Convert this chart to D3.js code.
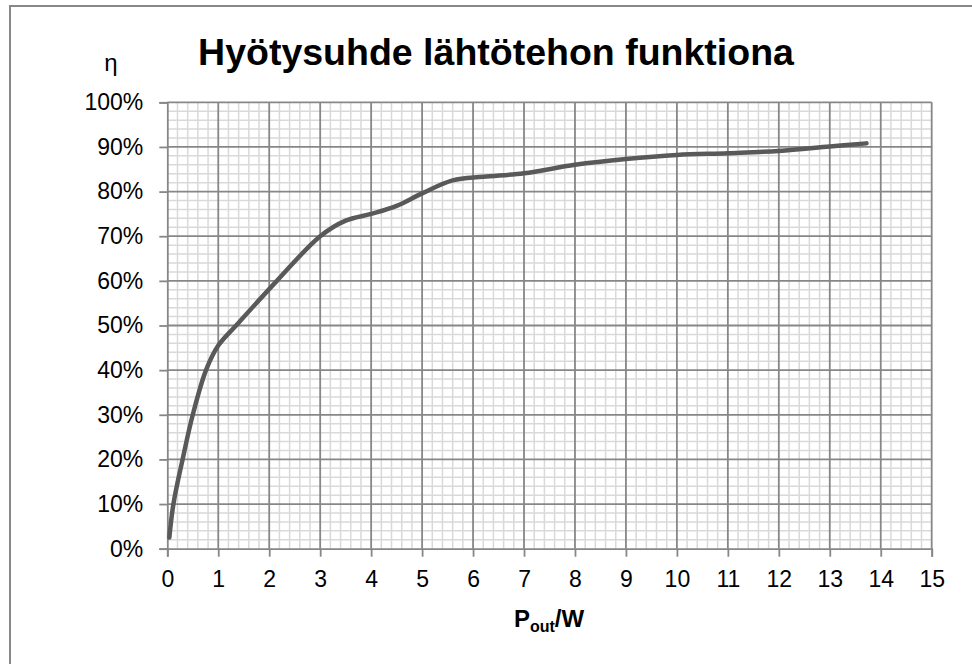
<!DOCTYPE html>
<html>
<head>
<meta charset="utf-8">
<script src="https://cdn.jsdelivr.net/npm/d3@7"></script>
<style>
    body { margin: 0; background: #fff; }
    text { font-family: "Liberation Sans", Arial, sans-serif; }
</style>
</head>
<body>
<div id="chart"></div>
<script>
// lahtoteho (W) ja hyotysuhde (%)
var pOut = [0.04, 0.12, 0.3, 0.5, 0.76, 1.0, 1.35, 2.15, 3.0, 3.5, 4.0, 4.5, 5.0, 5.6, 6.2, 7.0, 8.0, 9.0, 10, 11, 12, 13, 13.72];
var eta = [2.5, 10, 20, 30, 40, 45.5, 50, 60, 70, 73.5, 75, 76.8, 79.6, 82.5, 83.3, 84.1, 86, 87.3, 88.2, 88.6, 89.1, 90.1, 90.8];
var xTicks = [0, 1, 2, 3, 4, 5, 6, 7, 8, 9, 10, 11, 12, 13, 14, 15];
var yTicks = [0, 10, 20, 30, 40, 50, 60, 70, 80, 90, 100];
var titleText = "Hyötysuhde lähtötehon funktiona";

(function () {

    var width = 972;
    var height = 664;
    var left = 167.3, right = 931.7, top = 102.3, bottom = 548.7;

    var svg = d3.select("#chart").append("svg")
        .attr("width", width).attr("height", height);

    // ulkoreunus
    svg.append("rect")
        .attr("x", 10).attr("y", 6)
        .attr("width", 990).attr("height", 690)
        .attr("fill", "#fff")
        .attr("stroke", "#888").attr("stroke-width", 2);

    var x = d3.scaleLinear().domain([0, 15]).range([left, right]);
    var y = d3.scaleLinear().domain([0, 100]).range([bottom, top]);

    var minorX = d3.range(0, 75).map(function (i) { return i * 0.2; }).filter(function (v, i) { return i % 5 != 0; });
    var minorY = d3.range(0, 50).map(function (i) { return i * 2; }).filter(function (v, i) { return i % 5 != 0; });

    var grid = svg.append("g");
    grid.selectAll(".mx").data(minorX).enter().append("line")
        .attr("x1", function (d) { return x(d); }).attr("x2", function (d) { return x(d); })
        .attr("y1", top).attr("y2", bottom)
        .attr("stroke", "#d9d9d9").attr("stroke-width", 1.5);
    grid.selectAll(".my").data(minorY).enter().append("line")
        .attr("y1", function (d) { return y(d); }).attr("y2", function (d) { return y(d); })
        .attr("x1", left).attr("x2", right)
        .attr("stroke", "#d9d9d9").attr("stroke-width", 1.5);
    grid.selectAll(".Mx").data(xTicks.slice(1)).enter().append("line")
        .attr("x1", function (d) { return x(d); }).attr("x2", function (d) { return x(d); })
        .attr("y1", top).attr("y2", bottom)
        .attr("stroke", "#878787").attr("stroke-width", 1.8);
    grid.selectAll(".My").data(yTicks.slice(1)).enter().append("line")
        .attr("y1", function (d) { return y(d); }).attr("y2", function (d) { return y(d); })
        .attr("x1", left).attr("x2", right)
        .attr("stroke", "#878787").attr("stroke-width", 1.8);

    // akselit
    var xAxis = svg.append("g")
        .attr("transform", "translate(0," + bottom + ")")
        .call(d3.axisBottom(x).tickValues(xTicks).tickSize(8).tickPadding(14).tickFormat(d3.format("d")));
    var yAxis = svg.append("g")
        .attr("transform", "translate(" + left + ",0)")
        .call(d3.axisLeft(y).tickValues(yTicks).tickSize(8).tickPadding(16).tickFormat(function (d) { return d + "%"; }));
    [xAxis, yAxis].forEach(function (a) {
        a.select(".domain").attr("stroke", "#878787").attr("stroke-width", 1.8);
        a.selectAll(".tick line").attr("stroke", "#878787").attr("stroke-width", 1.8);
        a.selectAll(".tick text").attr("font-size", 23).attr("fill", "#000")
            .style("font-family", "'Liberation Sans', Arial, sans-serif");
    });

    // kayra
    var pts = pOut.map(function (d, i) { return [d, eta[i]]; });
    var line = d3.line()
        .x(function (d) { return x(d[0]); })
        .y(function (d) { return y(d[1]); })
        .curve(d3.curveCatmullRom.alpha(0.5));
    svg.append("path")
        .datum(pts)
        .attr("d", line)
        .attr("fill", "none")
        .attr("stroke", "#595959")
        .attr("stroke-width", 4.5)
        .attr("stroke-linecap", "round")
        .attr("stroke-linejoin", "round");

    svg.append("text")
        .attr("x", 496).attr("y", 65)
        .attr("text-anchor", "middle")
        .attr("font-size", 37.5).attr("font-weight", "bold")
        .text(titleText);

    svg.append("text")
        .attr("x", 111).attr("y", 71)
        .attr("text-anchor", "middle")
        .attr("font-size", 24)
        .text("η");

    var xt = svg.append("text")
        .attr("x", 549).attr("y", 627)
        .attr("text-anchor", "middle")
        .attr("font-size", 24).attr("font-weight", "bold");
    xt.append("tspan").text("P");
    xt.append("tspan").attr("font-size", 16).attr("dy", 5).text("out");
    xt.append("tspan").attr("dy", -5).text("/W");
})();
</script>
</body>
</html>
